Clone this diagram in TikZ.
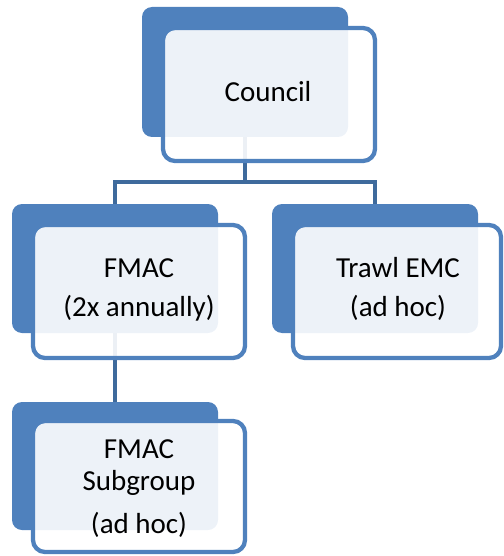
\documentclass[tikz,border=0pt]{standalone}
\usepackage{fontspec}
\setmainfont{Carlito}
\definecolor{accent}{HTML}{4F81BD}
\definecolor{conn}{HTML}{3E6A9C}
\tikzset{
  backbox/.style={fill=accent, draw=none, rounded corners=10pt, inner sep=0pt, outer sep=0pt},
  frontbox/.style={draw=accent, line width=4.3pt, fill=white, fill opacity=0.9, rounded corners=12pt, inner sep=0pt, outer sep=0pt},
  link/.style={draw=conn, line width=4.5pt},
  lbl/.style={anchor=base, inner sep=0pt, font=\fontsize{29pt}{32pt}\selectfont, text=black}
}
\begin{document}
\begin{tikzpicture}[x=1pt,y=1pt]
\useasboundingbox (0,0) rectangle (503,-556);
% back boxes
\node[backbox, minimum width=206pt, minimum height=130pt] (b1) at (245,-72) {};
\node[backbox, minimum width=206pt, minimum height=129pt] (b2) at (115,-268.5) {};
\node[backbox, minimum width=206pt, minimum height=129pt] (b3) at (375,-268.5) {};
\node[backbox, minimum width=206pt, minimum height=128pt] (b4) at (115,-466) {};
% connectors
\path[link] (b1.south) -- ++(0,-45) coordinate (j) -| (b2.north);
\path[link] (j) -| (b3.north);
\path[link] (b2.south) -- (b4.north);
% front boxes
\node[frontbox, minimum width=212pt, minimum height=133pt] (f1) at (269,-94.5) {};
\node[frontbox, minimum width=212pt, minimum height=133pt] (f2) at (139,-291.5) {};
\node[frontbox, minimum width=208pt, minimum height=133pt] (f3) at (397,-291.5) {};
\node[frontbox, minimum width=212pt, minimum height=131pt] (f4) at (139,-486.5) {};
% texts
\node[lbl] (t1) at (268,-102) {Council};
\node[lbl] (t2a) at (139,-277) {FMAC};
\node[lbl] (t2b) at (139,-316) {(2x annually)};
\node[lbl] (t3a) at (398,-277) {Trawl EMC};
\node[lbl] (t3b) at (398,-316) {(ad hoc)};
\node[lbl] (t4a) at (139,-458) {FMAC};
\node[lbl] (t4b) at (139,-490) {Subgroup};
\node[lbl] (t4c) at (139,-533) {(ad hoc)};
\end{tikzpicture}
\end{document}
